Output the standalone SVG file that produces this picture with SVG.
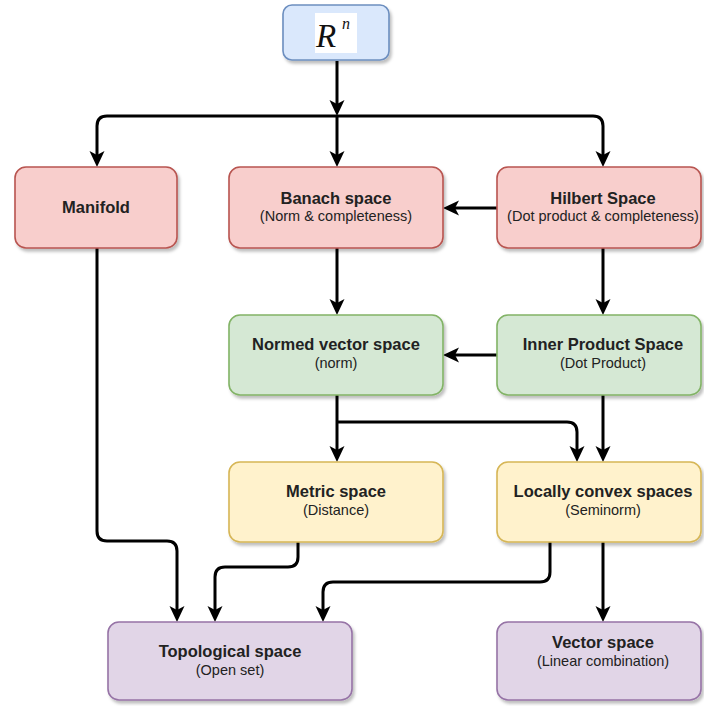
<svg xmlns="http://www.w3.org/2000/svg" width="704" height="706" viewBox="0 0 704 706">
<defs>
<filter id="sh" x="-10%" y="-10%" width="130%" height="140%">
<feDropShadow dx="2" dy="3" stdDeviation="1.5" flood-color="#000" flood-opacity="0.25"/>
</filter>
<marker id="arr" viewBox="0 0 16 16" markerWidth="16" markerHeight="16" refX="4" refY="8" orient="auto" markerUnits="userSpaceOnUse">
<path d="M0,0.5 L16,8 L0,15.5 L4,8 Z" fill="#000"/>
</marker>
</defs>
<style>
.box{stroke-width:1.6;filter:url(#sh)}
.red{fill:#f8cecc;stroke:#b85450}
.green{fill:#d5e8d4;stroke:#82b366}
.yellow{fill:#fff2cc;stroke:#d6b656}
.purple{fill:#e1d5e7;stroke:#9673a6}
.blue{fill:#dae8fc;stroke:#6c8ebf}
.t{font-family:"Liberation Sans",Arial,Helvetica,sans-serif;font-size:16.5px;font-weight:bold;fill:#222;text-anchor:middle}
.s{font-family:"Liberation Sans",Arial,Helvetica,sans-serif;font-size:14.5px;fill:#222;text-anchor:middle}
.e{fill:none;stroke:#000;stroke-width:3;marker-end:url(#arr)}
.l{fill:none;stroke:#000;stroke-width:3}
</style>
<rect width="704" height="706" fill="#fff"/>

<g id="connectors">
<path class="e" d="M337 61 V104"/>
<path class="e" d="M337 116 H107 Q97 116 97 126 V155"/>
<path class="e" d="M337 116 V155"/>
<path class="e" d="M337 116 H593 Q603 116 603 126 V155"/>
<path class="e" d="M497 208 H455"/>
<path class="e" d="M337 248 V303"/>
<path class="e" d="M603 248 V303"/>
<path class="e" d="M497 355 H455"/>
<path class="e" d="M337 395 V450"/>
<path class="e" d="M337 422 H567 Q577 422 577 432 V450"/>
<path class="e" d="M603 395 V450"/>
<path class="e" d="M97 248 V531 Q97 541 107 541 H167 Q177 541 177 551 V610"/>
<path class="e" d="M298 542 V557 Q298 567 288 567 H225 Q215 567 215 577 V610"/>
<path class="e" d="M550 542 V572 Q550 582 540 582 H333 Q323 582 323 592 V610"/>
<path class="e" d="M603 542 V610"/>
</g>

<g id="rn">
<rect class="box blue" x="283" y="5" width="106" height="55" rx="9"/>
<rect x="315" y="13" width="42" height="40" fill="#fff"/>
<text x="316" y="47" font-family="Liberation Serif,Times New Roman,serif" font-style="italic" font-size="33" fill="#111">R</text>
<text x="342" y="29" font-family="Liberation Serif,Times New Roman,serif" font-style="italic" font-size="16" fill="#111">n</text>
</g>

<g id="manifold">
<rect class="box red" x="15" y="167" width="162" height="81" rx="11"/>
<text class="t" x="96" y="213">Manifold</text>
</g>

<g id="banach">
<rect class="box red" x="229" y="167" width="214" height="81" rx="11"/>
<text class="t" x="336" y="204">Banach space</text>
<text class="s" x="336" y="221">(Norm &amp; completeness)</text>
</g>

<g id="hilbert">
<rect class="box red" x="497" y="167" width="204" height="81" rx="11"/>
<text class="t" x="603" y="204">Hilbert Space</text>
<text class="s" x="603" y="221">(Dot product &amp; completeness)</text>
</g>

<g id="normed">
<rect class="box green" x="229" y="315" width="214" height="80" rx="11"/>
<text class="t" x="336" y="350">Normed vector space</text>
<text class="s" x="336" y="368">(norm)</text>
</g>

<g id="inner">
<rect class="box green" x="497" y="315" width="204" height="80" rx="11"/>
<text class="t" x="603" y="350">Inner Product Space</text>
<text class="s" x="603" y="368">(Dot Product)</text>
</g>

<g id="metric">
<rect class="box yellow" x="229" y="462" width="214" height="80" rx="11"/>
<text class="t" x="336" y="497">Metric space</text>
<text class="s" x="336" y="515">(Distance)</text>
</g>

<g id="locally">
<rect class="box yellow" x="497" y="462" width="204" height="80" rx="11"/>
<text class="t" x="603" y="497">Locally convex spaces</text>
<text class="s" x="603" y="515">(Seminorm)</text>
</g>

<g id="topological">
<rect class="box purple" x="108" y="622" width="244" height="78" rx="11"/>
<text class="t" x="230" y="657">Topological space</text>
<text class="s" x="230" y="675">(Open set)</text>
</g>

<g id="vector">
<rect class="box purple" x="497" y="622" width="204" height="78" rx="11"/>
<text class="t" x="603" y="648">Vector space</text>
<text class="s" x="603" y="666">(Linear combination)</text>
</g>
</svg>
